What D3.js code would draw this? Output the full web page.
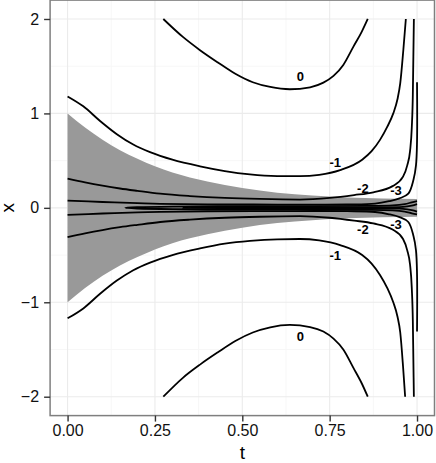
<!DOCTYPE html>
<html>
<head>
<meta charset="utf-8">
<script src="https://cdn.jsdelivr.net/npm/d3@7"></script>
<style>
body{margin:0;background:#fff}
svg{display:block}
text{font-family:"Liberation Sans",Arial,Helvetica,sans-serif}
</style>
</head>
<body>
<svg id="chart" width="436" height="463"></svg>
<script>
// tick values
var tTicks = [0, 0.25, 0.5, 0.75, 1];
var tMinor = [0.125, 0.375, 0.625, 0.875];
var xTicks = [-2, -1, 0, 1, 2];
var xMinor = [-1.5, -0.5, 0.5, 1.5];

// grey band
var bandT     = [0, 0.05, 0.1, 0.15, 0.2, 0.25, 0.3, 0.4, 0.5, 0.6, 0.7, 0.8, 0.9, 1.0];
var bandUpper = [1.0, 0.85, 0.72, 0.61, 0.52, 0.44, 0.375, 0.28, 0.21, 0.16, 0.13, 0.11, 0.1, 0.095];
var bandLower = [-1.0, -0.85, -0.72, -0.61, -0.52, -0.44, -0.375, -0.28, -0.21, -0.16, -0.13, -0.11, -0.1, -0.095];

// contour lines as [t, x]
var level0Up = [[0.274,2.0],[0.33,1.81],[0.379,1.67],[0.43,1.54],[0.48,1.42],[0.53,1.33],[0.58,1.28],[0.636,1.256],[0.694,1.277],[0.732,1.326],[0.761,1.397],[0.789,1.513],[0.818,1.707],[0.842,1.866],[0.859,2.0]];
var level0Dn = [[0.274,-2.0],[0.33,-1.8],[0.379,-1.66],[0.43,-1.53],[0.48,-1.41],[0.53,-1.32],[0.58,-1.265],[0.636,-1.24],[0.694,-1.262],[0.732,-1.31],[0.761,-1.385],[0.789,-1.5],[0.818,-1.695],[0.842,-1.86],[0.859,-2.0]];

var level1Up = [[0,1.18],[0.045,1.075],[0.093,0.92],[0.141,0.78],[0.188,0.67],[0.236,0.59],[0.3,0.51],[0.379,0.44],[0.45,0.39],[0.522,0.355],[0.6,0.337],[0.665,0.335],[0.72,0.35],[0.78,0.4],[0.843,0.51],[0.87,0.6],[0.894,0.72],[0.915,0.86],[0.932,1.0],[0.944,1.15],[0.952,1.32],[0.961,1.68],[0.968,2.0]];
var level1Dn = [[0,-1.17],[0.045,-1.065],[0.093,-0.91],[0.141,-0.77],[0.188,-0.66],[0.236,-0.58],[0.3,-0.5],[0.379,-0.43],[0.45,-0.38],[0.522,-0.35],[0.6,-0.333],[0.665,-0.33],[0.72,-0.345],[0.78,-0.395],[0.843,-0.5],[0.87,-0.59],[0.894,-0.71],[0.915,-0.85],[0.932,-1.0],[0.944,-1.15],[0.952,-1.32],[0.96,-1.68],[0.966,-2.0]];

var level2Up = [[0,0.31],[0.05,0.27],[0.1,0.235],[0.15,0.205],[0.2,0.18],[0.265,0.15],[0.35,0.125],[0.45,0.105],[0.55,0.094],[0.665,0.088],[0.75,0.105],[0.82,0.135],[0.875,0.165],[0.93,0.23],[0.96,0.33],[0.972,0.45],[0.98,0.6],[0.985,0.85],[0.988,1.2],[0.9895,1.6],[0.991,2.0]];
var level2Dn = [[0,-0.31],[0.05,-0.27],[0.1,-0.235],[0.15,-0.205],[0.2,-0.18],[0.265,-0.15],[0.35,-0.125],[0.45,-0.105],[0.55,-0.094],[0.665,-0.088],[0.75,-0.105],[0.82,-0.135],[0.875,-0.165],[0.93,-0.23],[0.96,-0.33],[0.972,-0.45],[0.98,-0.6],[0.985,-0.85],[0.988,-1.2],[0.9895,-1.6],[0.991,-2.0]];

var level3Up = [[0,0.077],[0.1,0.062],[0.2,0.05],[0.265,0.043],[0.4,0.037],[0.6,0.035],[0.8,0.036],[0.88,0.045],[0.92,0.07],[0.95,0.1],[0.975,0.15],[0.99,0.3],[0.997,0.45],[1.0,0.7],[1.0,1.33]];
var level3Dn = [[0,-0.074],[0.1,-0.06],[0.2,-0.048],[0.265,-0.042],[0.4,-0.036],[0.6,-0.034],[0.8,-0.035],[0.88,-0.044],[0.92,-0.068],[0.95,-0.098],[0.975,-0.15],[0.99,-0.3],[0.997,-0.45],[1.0,-0.7],[1.0,-1.31]];

var level4 = [[1.0,0.07],[0.985,0.058],[0.965,0.04],[0.93,0.026],[0.85,0.02],[0.7,0.019],[0.5,0.018],[0.3,0.014],[0.2,0.007],[0.165,0],[0.2,-0.007],[0.3,-0.014],[0.5,-0.018],[0.7,-0.019],[0.85,-0.02],[0.93,-0.026],[0.965,-0.04],[0.985,-0.058],[1.0,-0.07]];
var level5 = [[1.0,0.04],[0.985,0.024],[0.96,0.01],[0.8,0.006],[0.5,0.005],[0.33,0],[0.5,-0.005],[0.8,-0.006],[0.96,-0.01],[0.985,-0.024],[1.0,-0.04]];

// contour labels
var labelText = ["0", "0", "-1", "-1", "-2", "-2", "-3", "-3"];
var labelT    = [0.666, 0.666, 0.766, 0.766, 0.845, 0.845, 0.94, 0.94];
var labelX    = [1.389, -1.365, 0.486, -0.5, 0.207, -0.227, 0.189, -0.171];

var svg = d3.select("#chart");

var x = d3.scaleLinear().domain([-0.05, 1.05]).range([50.1, 434.5]);
var y = d3.scaleLinear().domain([-2.2, 2.2]).range([415.6, 0.1]);

svg.append("rect").attr("width",436).attr("height",463).attr("fill","#fff");

// grid
var grid = svg.append("g");
grid.selectAll(".vmin").data(tMinor).enter().append("line")
	.attr("x1",function(d){return x(d);}).attr("x2",function(d){return x(d);})
	.attr("y1",y.range()[0]).attr("y2",y.range()[1])
	.attr("stroke","#f7f7f7").attr("stroke-width",1);
grid.selectAll(".hmin").data(xMinor).enter().append("line")
	.attr("y1",function(d){return y(d);}).attr("y2",function(d){return y(d);})
	.attr("x1",x.range()[0]).attr("x2",x.range()[1])
	.attr("stroke","#f7f7f7").attr("stroke-width",1);
grid.selectAll(".vmaj").data(tTicks).enter().append("line")
	.attr("x1",function(d){return x(d);}).attr("x2",function(d){return x(d);})
	.attr("y1",y.range()[0]).attr("y2",y.range()[1])
	.attr("stroke","#ebebeb").attr("stroke-width",1.1);
grid.selectAll(".hmaj").data(xTicks).enter().append("line")
	.attr("y1",function(d){return y(d);}).attr("y2",function(d){return y(d);})
	.attr("x1",x.range()[0]).attr("x2",x.range()[1])
	.attr("stroke","#ebebeb").attr("stroke-width",1.1);

// grey band
var area = d3.area()
	.x(function(d,i){return x(bandT[i]);})
	.y0(function(d,i){return y(bandLower[i]);})
	.y1(function(d,i){return y(bandUpper[i]);})
	.curve(d3.curveMonotoneX);
svg.append("path").datum(bandT).attr("d",area).attr("fill","#999999");

// contours: smooth in t where the line is a function of t
var lineT = d3.line()
	.x(function(d){return x(d[0]);})
	.y(function(d){return y(d[1]);})
	.curve(d3.curveMonotoneX);
var lineFree = d3.line()
	.x(function(d){return x(d[0]);})
	.y(function(d){return y(d[1]);})
	.curve(d3.curveCatmullRom.alpha(0.5));

var tContours = [level0Up, level0Dn, level1Up, level1Dn, level2Up, level2Dn];
var freeContours = [level3Up, level3Dn, level4, level5];
var cg = svg.append("g").attr("fill","none").attr("stroke","#000").attr("stroke-width",1.8).attr("stroke-linejoin","round");
cg.selectAll(".ct").data(tContours).enter().append("path").attr("d",lineT);
cg.selectAll(".cf").data(freeContours).enter().append("path").attr("d",lineFree);

svg.append("g").selectAll("text").data(labelText).enter().append("text")
	.attr("x",function(d,i){return x(labelT[i]);})
	.attr("y",function(d,i){return y(labelX[i]);})
	.attr("dy","0.36em")
	.attr("text-anchor","middle")
	.attr("font-size","13px")
	.attr("font-weight","bold")
	.text(function(d){return d;});

// panel border
svg.append("rect")
	.attr("x",x.range()[0]).attr("y",y.range()[1])
	.attr("width",x.range()[1]-x.range()[0]).attr("height",y.range()[0]-y.range()[1])
	.attr("fill","none").attr("stroke","#7f7f7f").attr("stroke-width",1.5);

// axes
var xAxis = d3.axisBottom(x).tickValues(tTicks).tickFormat(d3.format(".2f")).tickSize(6).tickSizeOuter(0).tickPadding(3);
var gx = svg.append("g").attr("transform","translate(0,"+y.range()[0]+")").call(xAxis);
gx.select(".domain").remove();
gx.selectAll(".tick line").attr("stroke","#333").attr("stroke-width",1.4);
gx.selectAll(".tick text").attr("font-size","16px").attr("fill","#111").attr("font-family",null);

var yAxis = d3.axisLeft(y).tickValues(xTicks).tickFormat(function(d){return d<0?"\u2212"+Math.abs(d):d;}).tickSize(6).tickSizeOuter(0).tickPadding(5);
var gy = svg.append("g").attr("transform","translate("+x.range()[0]+",0)").call(yAxis);
gy.select(".domain").remove();
gy.selectAll(".tick line").attr("stroke","#333").attr("stroke-width",1.4);
gy.selectAll(".tick text").attr("font-size","16px").attr("fill","#111").attr("font-family",null);

// titles
svg.append("text").attr("x",(x.range()[0]+x.range()[1])/2).attr("y",459)
	.attr("text-anchor","middle").attr("font-size","19px").text("t");
svg.append("text").attr("transform","translate(14,"+y(0)+") rotate(-90)")
	.attr("text-anchor","middle").attr("font-size","19px").text("x");
</script>
</body>
</html>
